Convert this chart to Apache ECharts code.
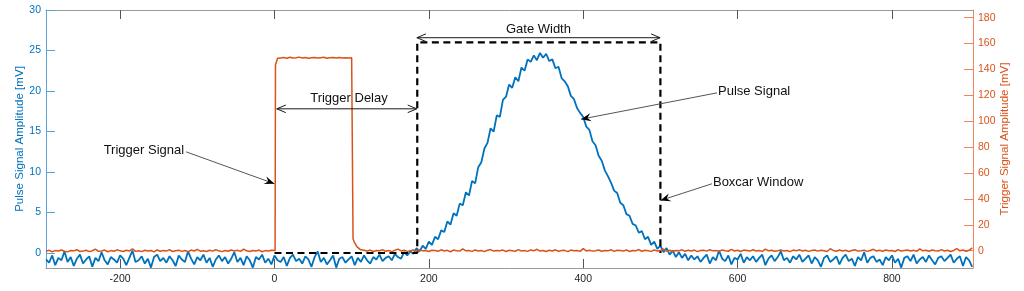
<!DOCTYPE html>
<html><head><meta charset="utf-8">
<script src="https://cdn.jsdelivr.net/npm/echarts@6/dist/echarts.min.js"></script>
<style>html,body{margin:0;padding:0;background:#fff}#c{width:1024px;height:291px}</style>
</head><body><div id="c"></div>
<script>
// ---- data ----
const T_START = -296, T_STEP = 4;            // sample grid of the recorded traces
const X_TICKS = [-200, 0, 200, 400, 600, 800];
const LEFT_TICKS = [0, 5, 10, 15, 20, 25, 30];
const RIGHT_TICKS = [0, 20, 40, 60, 80, 100, 120, 140, 160, 180];

// Pulse signal [mV] (left axis), on the sample grid
const PULSE = [
 -0.8,-1.2,-0.3,-1.5,-0.6,-0.9,0.2,-1.1,-0.5,-1.6,-0.7,-0.2,-1.3,-0.8,-0.4,-1.7,-0.6,-1.0,0.1,-0.9,
 -1.4,-0.5,-0.8,-1.2,-0.3,-0.7,-1.5,-0.6,0.3,-1.1,-0.9,-0.4,-1.3,-0.7,-1.8,-0.5,-0.2,-1.0,-0.6,-1.2,
 -0.4,-0.9,-1.6,-0.3,-0.8,-1.1,0.2,-0.7,-1.4,-0.5,-0.9,-0.2,-1.2,-0.6,-1.7,-0.8,-0.3,-1.0,-0.5,-1.3,
 -0.7,0.1,-1.1,-0.6,-1.5,-0.4,-0.9,-1.8,-0.5,-0.8,-0.2,-1.2,-0.7,-1.4,-0.3,-0.9,-1.1,-0.5,-1.6,-0.6,
 -0.2,-1.0,-0.7,-1.3,-0.4,-0.8,-1.7,-0.5,0.2,-1.1,-0.6,-1.4,-0.9,-0.3,-1.8,-0.7,-0.5,-1.2,-0.8,-0.4,
 -1.5,-0.6,-1.1,-0.3,-0.9,-1.3,-0.5,-0.8,-0.2,-1.0,-0.6,-0.4,-0.9,-0.1,-0.5,-0.7,0.1,-0.3,
 0.2,-0.1,0.6,0.2,0.9,0.5,1.4,1.0,2.0,1.7,2.8,2.6,3.9,3.5,4.9,4.6,6.1,5.9,7.5,7.1,
 8.9,8.6,10.6,11.2,12.9,13.6,15.4,15.0,17.0,16.8,18.9,19.3,20.8,20.4,21.7,21.2,22.9,22.5,23.9,23.6,
 24.4,23.8,24.7,24.1,24.6,23.7,23.9,22.8,23.0,21.6,21.2,20.6,19.4,19.0,17.9,17.3,16.8,15.6,15.2,13.8,
 13.3,12.0,11.4,10.2,9.5,8.7,7.7,7.4,6.2,5.9,4.8,4.6,3.6,3.4,2.5,2.7,1.7,2.0,1.0,1.4,
 0.5,0.9,0.1,0.6,-0.2,0.3,-0.5,0.1,-0.6,-0.1,-0.9,-0.3,-0.8,
 -0.4,-1.1,-0.6,-0.2,-1.3,-0.5,-0.9,0.3,-0.7,-1.0,-0.3,-1.4,-0.6,-0.8,-0.1,-1.2,-0.5,-0.9,-0.4,-1.1,
 -0.6,-0.2,-1.5,-0.7,-0.3,-1.0,-0.5,0.2,-0.9,-0.6,-1.2,-0.4,-0.8,-0.2,-1.1,-0.7,-0.3,-1.3,-0.5,-0.9,
 -1.7,-0.6,-0.3,-1.1,-0.8,-0.4,-1.4,-0.6,-0.2,-1.0,-0.7,-1.6,-0.5,-0.9,0.1,-1.2,-0.6,-0.4,-1.1,-0.8,
 -1.5,-0.5,-0.9,-0.3,-1.2,-0.7,-1.8,-0.6,-0.4,-1.0,-0.2,-1.3,-0.8,-0.5,-1.1,-0.3,-0.9,-1.4,-0.6,-0.4,
 -1.0,-0.6,-0.2,-1.2,-0.7,-0.4,-1.6,-0.5,-0.9,-1.7
];

// Trigger signal [mV] (right axis)
// baseline before the trigger, on the sample grid from T_START
const TRIGGER_PRE = [
 -0.5,0.3,-0.8,0.1,-0.2,0.6,-0.4,-0.9,0.2,-0.1,0.8,-0.6,-0.3,0.4,-0.7,0.0,1.2,-0.5,-0.2,0.5,
 -0.8,0.1,-0.4,0.7,-0.1,-0.6,0.3,-0.3,1.5,-0.5,0.0,-0.7,0.4,-0.2,0.2,-0.9,0.6,-0.4,0.1,-0.3,
 0.9,-0.6,-0.1,0.3,-0.5,0.2,-0.8,0.5,-0.2,1.1,-0.4,0.0,-0.6,0.4,-0.3,0.7,-0.1,-0.7,0.2,-0.4,
 0.6,-0.2,0.3,-0.5,1.3,-0.1,-0.6,0.2,-0.3,0.5,-0.8,0.1,-0.2,0.4
];
// trigger pulse, irregular sample times around the edges
const TRIGGER_PULSE_T = [0.8, 1.3, 4, 8, 12, 16, 20, 24, 28, 32, 36, 40, 44, 48, 52, 56, 60, 64, 68, 72, 76, 80, 84, 88, 92, 96, 100, 101.3, 101.8, 104, 107, 111, 116];
const TRIGGER_PULSE_V = [0.2, 143.5, 148.6, 148.9, 149.2, 148.7, 149.4, 148.8, 149.1, 149.5, 148.9, 149.2, 148.6, 149.0, 149.3, 148.8, 149.1, 149.4, 148.7, 149.0, 149.2, 148.9, 149.3, 148.8, 149.1, 148.9, 149.0, 148.8, 9.0, 6.0, 3.0, 1.0, 0.3];
// baseline after the trigger, on the sample grid from 120
const TRIGGER_POST_START = 120;
const TRIGGER_POST = [
 -0.3,0.5,-0.6,0.2,-0.1,0.8,-0.4,0.1,-0.7,0.3,1.2,-0.2,0.4,-0.5,0.0,0.6,-0.3,0.9,-0.1,0.2,
 -0.6,0.4,0.1,-0.4,0.7,-0.2,0.3,-0.8,0.5,0.0,-0.3,1.4,-0.1,0.2,-0.5,0.6,-0.2,0.1,-0.7,0.4,
 0.9,-0.3,0.2,-0.1,0.5,-0.6,0.3,0.0,-0.4,0.8,-0.2,0.1,-0.5,0.6,-0.1,1.1,-0.3,0.2,-0.6,0.4,
 -0.2,0.7,-0.4,0.1,0.3,-0.7,0.5,-0.1,0.2,-0.5,1.6,-0.2,0.4,-0.3,0.0,0.6,-0.4,0.2,-0.1,0.8,
 -0.5,0.3,0.1,-0.3,0.6,-0.6,0.2,-0.1,0.9,-0.4,0.3,0.0,-0.5,0.5,-0.2,0.1,1.3,-0.3,0.4,-0.6,
 0.2,-0.1,0.7,-0.4,0.3,-0.2,0.5,-0.7,0.1,0.4,-0.3,0.8,-0.1,0.2,-0.5,0.6,0.0,-0.4,1.0,-0.2,
 0.3,-0.6,0.5,0.1,-0.3,0.7,-0.2,0.2,-0.5,1.2,-0.1,0.4,-0.4,0.0,0.6,-0.3,0.2,-0.7,0.5,-0.1,
 0.8,-0.2,0.3,-0.5,0.1,0.6,-0.3,0.4,-0.1,-0.6,1.5,0.2,-0.4,0.5,-0.2,0.3,-0.6,0.1,0.7,-0.3,
 0.0,0.4,-0.5,0.2,1.1,-0.2,0.3,-0.4,0.6,-0.1,0.2,-0.6,0.9,-0.3,0.1,0.5,-0.2,0.3,-0.5,1.4,
 -0.1,0.3,-0.4,0.6,0.0,-0.3,0.8,-0.2,0.4,-0.6,0.2,1.7,-0.1,0.5,-0.4,0.3,2.2
];

// Boxcar window outline (left axis units)
const BOXCAR_T = [0, 185, 185, 500, 500];
const BOXCAR_V = [0, 0, 26, 26, 0];

// Annotations (data coordinates, left axis)
const ANNOTATIONS = [
  { kind: 'double', from: [184.5, 26.58], to: [499.6, 26.58], text: 'Gate Width', textAt: [342, 27.65] },
  { kind: 'double', from: [3, 17.8], to: [184.3, 17.8], text: 'Trigger Delay', textAt: [96.5, 19.05] },
  { kind: 'arrow', from: [-114.5, 12.49], to: [0, 8.55], text: 'Trigger Signal', side: 'left' },
  { kind: 'arrow', from: [573.3, 19.77], to: [397.2, 16.52], text: 'Pulse Signal', side: 'right' },
  { kind: 'arrow', from: [566.8, 8.55], to: [500.1, 6.49], text: 'Boxcar Window', side: 'right' }
];

// ---- chart ----
const FONT = '"Liberation Sans", Arial, Helvetica, sans-serif';
const BLUE = '#0072BD', ORANGE = '#D95319';
const chart = echarts.init(document.getElementById('c'), null, { renderer: 'canvas' });

const pulseData = PULSE.map((v, i) => [T_START + i * T_STEP, v]);
const trigData = []
  .concat(TRIGGER_PRE.map((v, i) => [T_START + i * T_STEP, v]))
  .concat(TRIGGER_PULSE_T.map((t, i) => [t, TRIGGER_PULSE_V[i]]))
  .concat(TRIGGER_POST.map((v, i) => [TRIGGER_POST_START + i * T_STEP, v]));
const boxData = BOXCAR_T.map((t, i) => [t, BOXCAR_V[i]]);

function rot(px, py, ang) {
  const c = Math.cos(ang), s = Math.sin(ang);
  return [px * c - py * s, px * s + py * c];
}
function openHead(tip, from) {
  const ang = Math.atan2(tip[1] - from[1], tip[0] - from[0]);
  const L = 9, W = 3.8;
  const a = rot(-L, W, ang), b = rot(-L, -W, ang);
  return { type: 'polyline', shape: { points: [[tip[0] + a[0], tip[1] + a[1]], tip, [tip[0] + b[0], tip[1] + b[1]]] },
           style: { stroke: '#1a1a1a', lineWidth: 1, fill: null } };
}
function filledHead(tip, from) {
  const ang = Math.atan2(tip[1] - from[1], tip[0] - from[0]);
  const L = 10, W = 4, N = 6.5;
  const a = rot(-L, W, ang), b = rot(-L, -W, ang), n = rot(-N, 0, ang);
  return { type: 'polygon', shape: { points: [tip, [tip[0] + a[0], tip[1] + a[1]], [tip[0] + n[0], tip[1] + n[1]], [tip[0] + b[0], tip[1] + b[1]]] },
           style: { fill: '#000', stroke: null } };
}
function renderItem(params, api) {
  const a = ANNOTATIONS[params.dataIndex];
  const p1 = api.coord(a.from), p2 = api.coord(a.to);
  const ch = [];
  if (a.kind === 'double') {
    ch.push({ type: 'line', shape: { x1: p1[0], y1: p1[1], x2: p2[0], y2: p2[1] }, style: { stroke: '#1a1a1a', lineWidth: 1 } });
    ch.push(openHead(p1, p2));
    ch.push(openHead(p2, p1));
    const tp = api.coord(a.textAt);
    ch.push({ type: 'text', x: tp[0], y: tp[1], style: { text: a.text, fill: '#111', font: '13px ' + FONT, align: 'center', verticalAlign: 'middle' } });
  } else {
    ch.push({ type: 'line', shape: { x1: p1[0], y1: p1[1], x2: p2[0], y2: p2[1] }, style: { stroke: '#555', lineWidth: 1 } });
    ch.push(filledHead(p2, p1));
    const left = a.side === 'left';
    ch.push({ type: 'text', x: p1[0] + (left ? -2 : 1), y: p1[1] - 1, style: { text: a.text, fill: '#111', font: '13px ' + FONT, align: left ? 'right' : 'left', verticalAlign: 'middle' } });
  }
  return { type: 'group', children: ch };
}

const xCommon = {
  type: 'value', min: -296, max: 905,
  splitLine: { show: false },
  axisLine: { show: true, onZero: false, lineStyle: { color: '#999', width: 1 } },
  axisTick: { show: true, inside: true, length: 9, customValues: X_TICKS, lineStyle: { color: '#555', width: 1 } }
};

chart.setOption({
  animation: false,
  backgroundColor: '#fff',
  grid: { left: 46, right: 51, top: 10, bottom: 23, containLabel: false },
  xAxis: [
    Object.assign({}, xCommon, {
      position: 'bottom',
      axisLabel: { show: true, customValues: X_TICKS, color: '#262626', fontSize: 10.5, fontFamily: FONT, margin: 6 }
    }),
    Object.assign({}, xCommon, { position: 'top', axisLabel: { show: false } })
  ],
  yAxis: [
    {
      type: 'value', position: 'left', min: -1.85, max: 30,
      splitLine: { show: false },
      axisLine: { show: true, onZero: false, lineStyle: { color: '#5aa3d8', width: 1 } },
      axisTick: { show: true, inside: true, length: 9, customValues: LEFT_TICKS, lineStyle: { color: '#5aa3d8', width: 1 } },
      axisLabel: { customValues: LEFT_TICKS, color: BLUE, fontSize: 10.5, fontFamily: FONT, margin: 5 },
      name: 'Pulse Signal Amplitude [mV]', nameLocation: 'middle', nameGap: 20, nameRotate: 90, nameMoveOverlap: false,
      nameTextStyle: { color: BLUE, fontSize: 11.55, fontFamily: FONT }
    },
    {
      type: 'value', position: 'right', min: -13.35, max: 185.9,
      splitLine: { show: false },
      axisLine: { show: true, onZero: false, lineStyle: { color: '#ea8a5c', width: 1 } },
      axisTick: { show: true, inside: true, length: 9, customValues: RIGHT_TICKS, lineStyle: { color: '#ea8a5c', width: 1 } },
      axisLabel: { customValues: RIGHT_TICKS, color: ORANGE, fontSize: 10.5, fontFamily: FONT, margin: 5 },
      name: 'Trigger Signal Amplitude [mV]', nameLocation: 'middle', nameGap: 26, nameRotate: 90, nameMoveOverlap: false,
      nameTextStyle: { color: ORANGE, fontSize: 11.55, fontFamily: FONT }
    }
  ],
  series: [
    { type: 'line', xAxisIndex: 0, yAxisIndex: 0, data: pulseData, showSymbol: false, symbol: 'none',
      lineStyle: { color: BLUE, width: 1.8 }, z: 2 },
    { type: 'line', xAxisIndex: 0, yAxisIndex: 0, data: boxData, showSymbol: false, symbol: 'none',
      lineStyle: { color: '#000', width: 2.2, type: [7, 4.5] }, z: 3 },
    { type: 'line', xAxisIndex: 0, yAxisIndex: 1, data: trigData, showSymbol: false, symbol: 'none',
      lineStyle: { color: ORANGE, width: 1.5 }, z: 4 },
    { type: 'custom', xAxisIndex: 0, yAxisIndex: 0, renderItem: renderItem,
      data: ANNOTATIONS.map(a => a.to), z: 5, clip: false }
  ]
});
</script>
</body></html>
